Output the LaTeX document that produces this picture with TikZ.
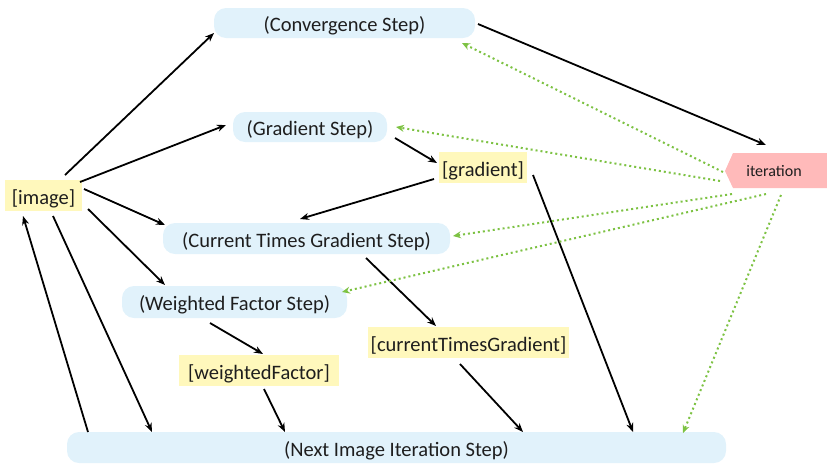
\documentclass[tikz,border=0pt]{standalone}
\usepackage{fontspec}
\setmainfont{Carlito}
\usetikzlibrary{arrows.meta,calc}
\definecolor{stepblue}{HTML}{E1F2FB}
\definecolor{datayellow}{HTML}{FFF8BC}
\definecolor{iterpink}{HTML}{FFBABA}
\definecolor{dotgreen}{HTML}{7DC243}
\definecolor{txt}{HTML}{1E1E1E}
\tikzset{
  stepnode/.style={fill=stepblue, rounded corners=12pt, inner sep=0pt, text=txt, text height=18pt, text depth=1pt, font=\fontsize{20.5}{24}\selectfont},
  datanode/.style={fill=datayellow, inner sep=0pt, text=txt, text height=18pt, text depth=1pt, font=\fontsize{20.5}{24}\selectfont},
  iternode/.style={inner sep=0pt, text=txt, font=\fontsize{16}{19}\selectfont},
  flow/.style={line width=1.8pt, black, -{Stealth[length=9pt,width=7pt]}},
  iterflow/.style={line width=2pt, dotgreen, dash pattern=on 2pt off 3pt, -{Stealth[length=8pt,width=7pt]}}
}
\begin{document}
\begin{tikzpicture}[x=1pt,y=-1pt]
\useasboundingbox (0,0) rectangle (827,464);
% nodes
\node[stepnode, minimum width=261pt, minimum height=30pt] (conv) at (344.5,23) {(Convergence Step)};
\node[stepnode, minimum width=154pt, minimum height=30pt] (gs) at (310,127) {(Gradient Step)};
\node[datanode, minimum width=88pt, minimum height=31pt] (grad) at (483,167.5) {[gradient]};
\node[datanode, minimum width=77pt, minimum height=31pt] (img) at (43.5,195.5) {[image]};
\node[stepnode, minimum width=287pt, minimum height=31pt] (ctgs) at (306.5,238.5) {(Current Times Gradient Step)};
\node[stepnode, minimum width=225pt, minimum height=32pt] (wfs) at (234.5,302) {(Weighted Factor Step)};
\node[datanode, minimum width=201pt, minimum height=31pt] (ctg) at (468.5,342.5) {[currentTimesGradient]};
\node[datanode, minimum width=160pt, minimum height=31pt] (wf) at (259,370.5) {[weightedFactor]};
\node[stepnode, minimum width=659pt, minimum height=31pt] (next) at (396.5,447.5) {(Next Image Iteration Step)};
% iteration (arrow-shaped box)
\fill[iterpink] (725,171) -- (733,153) -- (840,153) -- (840,188) -- (733,188) -- cycle;
\node[iternode] (iter) at (774,171) {iteration};
% black flows
\draw[flow] ($(img)+(21.5,-20.5)$) -- ($(conv)+(-130.5,10)$);
\draw[flow] ($(img)+(36.5,-13.5)$) -- ($(gs)+(-84,-2)$);
\draw[flow] ($(img)+(40.5,-6.5)$) -- ($(ctgs)+(-141.5,-13.5)$);
\draw[flow] ($(img)+(44.5,13.5)$) -- ($(wfs)+(-69.5,-17)$);
\draw[flow] ($(img)+(9.5,20.5)$) -- ($(next)+(-244.5,-15.5)$);
\draw[flow] ($(next)+(-308.5,-15.5)$) -- ($(img)+(-20.5,20.5)$);
\draw[flow] ($(conv)+(133.5,1)$) -- ($(iter)+(-8,-26)$);
\draw[flow] ($(gs)+(85,11)$) -- ($(grad)+(-46,-4.5)$);
\draw[flow] ($(grad)+(-49,11.5)$) -- ($(ctgs)+(-6.5,-19.5)$);
\draw[flow] ($(grad)+(50,7.5)$) -- ($(next)+(236.5,-15.5)$);
\draw[flow] ($(ctgs)+(59.5,19.5)$) -- ($(ctg)+(-32.5,-16.5)$);
\draw[flow] ($(wfs)+(-24.5,21)$) -- ($(wf)+(4,-16.5)$);
\draw[flow] ($(wf)+(5,18.5)$) -- ($(next)+(-111.5,-15.5)$);
\draw[flow] ($(ctg)+(-8.5,21.5)$) -- ($(next)+(126.5,-15.5)$);
% green dotted flows
\draw[iterflow] ($(iter)+(-51,1)$) -- ($(conv)+(117.5,20)$);
\draw[iterflow] ($(iter)+(-54,10)$) -- ($(gs)+(86,0)$);
\draw[iterflow] ($(iter)+(-42,23)$) -- ($(ctgs)+(146.5,-2.5)$);
\draw[iterflow] ($(iter)+(-8,23)$) -- ($(wfs)+(107.5,-10)$);
\draw[iterflow] ($(iter)+(7,24)$) -- ($(next)+(286.5,-14.5)$);
\end{tikzpicture}
\end{document}
